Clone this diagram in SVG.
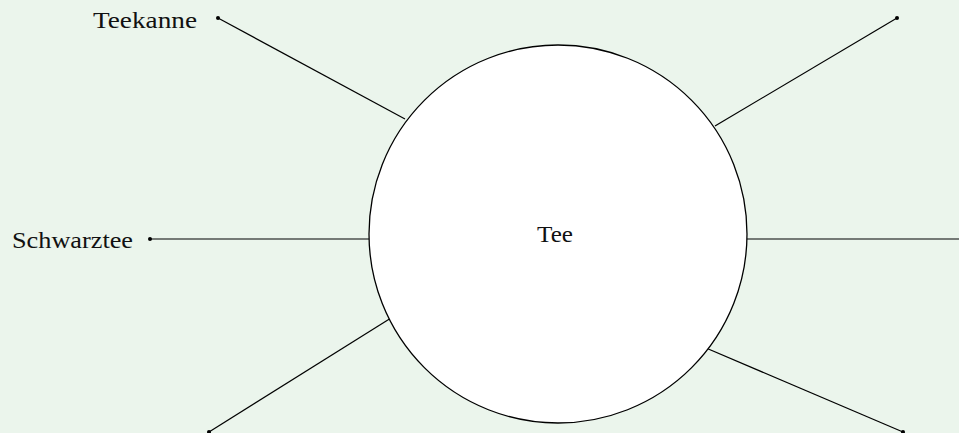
<svg xmlns="http://www.w3.org/2000/svg" width="959" height="433" viewBox="0 0 959 433">
  <style>
    .edge { stroke: #000; stroke-width: 1.2; fill: none; }
    .dot { fill: #000; }
    .label { font-family: "Liberation Serif", "DejaVu Serif", serif; font-size: 23px; fill: #111; }
    .hub { fill: #fff; stroke: #000; stroke-width: 1.3; }
  </style>
  <rect width="959" height="433" fill="#ebf5ec"/>
  <g id="connectors">
    <line class="edge" x1="218" y1="18" x2="405" y2="119"/>
    <line class="edge" x1="897" y1="18" x2="715" y2="126"/>
    <line class="edge" x1="150" y1="239" x2="369" y2="239"/>
    <line class="edge" x1="747" y1="239" x2="960" y2="239"/>
    <line class="edge" x1="391" y1="318" x2="209" y2="432"/>
    <line class="edge" x1="706" y1="348" x2="903" y2="432"/>
    <circle class="dot" cx="218" cy="18" r="2"/>
    <circle class="dot" cx="897" cy="18" r="2"/>
    <circle class="dot" cx="150" cy="239" r="2"/>
    <circle class="dot" cx="209" cy="432" r="2"/>
    <circle class="dot" cx="903" cy="432" r="2"/>
  </g>
  <g id="node-tee">
    <circle class="hub" cx="558" cy="234" r="189"/>
    <text class="label" x="555" y="242" text-anchor="middle" textLength="36" lengthAdjust="spacingAndGlyphs">Tee</text>
  </g>
  <g id="node-teekanne">
    <text class="label" x="93" y="28" textLength="104" lengthAdjust="spacingAndGlyphs">Teekanne</text>
  </g>
  <g id="node-schwarztee">
    <text class="label" x="12" y="248" textLength="121" lengthAdjust="spacingAndGlyphs">Schwarztee</text>
  </g>
</svg>
